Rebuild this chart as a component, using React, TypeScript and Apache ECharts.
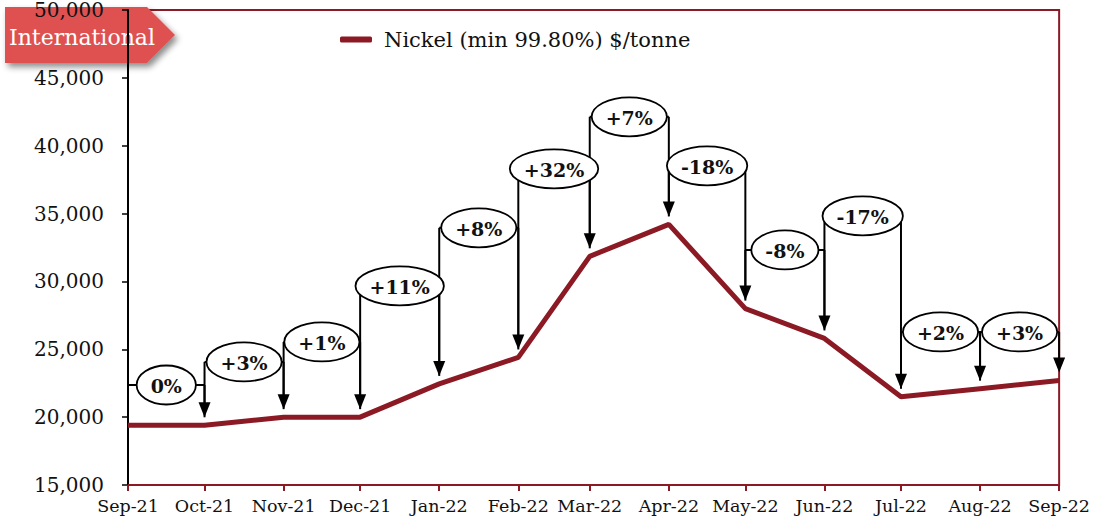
import React, { useEffect, useRef } from 'react';
import * as echarts from 'echarts';

// ---- data ----
const months = ['2021-09', '2021-10', '2021-11', '2021-12', '2022-01', '2022-02', '2022-03', '2022-04', '2022-05', '2022-06', '2022-07', '2022-08', '2022-09'];
const prices = [19400, 19400, 20000, 20000, 22450, 24400, 31850, 34200, 28000, 25800, 21500, 22100, 22700];
const changeLabels = ['0%', '+3%', '+1%', '+11%', '+8%', '+32%', '+7%', '-18%', '-8%', '-17%', '+2%', '+3%'];
const labelLevels = [22370, 24070, 25540, 29670, 33950, 38300, 42130, 38520, 32320, 34830, 26280, 26280];
const yMin = 15000;
const yMax = 50000;
const yStep = 5000;
const legendName = 'Nickel (min 99.80%) $/tonne';
const bannerText = 'International';
const monthAbbr = ['Jan', 'Feb', 'Mar', 'Apr', 'May', 'Jun', 'Jul', 'Aug', 'Sep', 'Oct', 'Nov', 'Dec'];

const FONT = '"DejaVu Serif", serif';
const LINE_RED = '#8B1A24';

function ts(s: string): number {
  const [y, m] = s.split('-').map(Number);
  return new Date(y, m - 1, 1).getTime();
}

let measureCtx: CanvasRenderingContext2D | null = null;
function textWidth(t: string, font: string): number {
  if (!measureCtx) {
    const c = document.createElement('canvas');
    measureCtx = c.getContext('2d');
  }
  if (!measureCtx) return t.length * 12;
  measureCtx.font = font;
  return measureCtx.measureText(t).width;
}

export default function App() {
  const ref = useRef<HTMLDivElement>(null);

  useEffect(() => {
    if (!ref.current) return;
    const chart = echarts.init(ref.current, undefined, { renderer: 'svg' });
    const lineData = months.map((m, i) => [ts(m), prices[i]]);
    const annData = changeLabels.map((_, i) => [ts(months[i]), ts(months[i + 1]), prices[i], prices[i + 1], labelLevels[i]]);
    const DAY = 24 * 3600 * 1000;
    const labelFont = `bold 19px ${FONT}`;

    const option: any = {
      animation: false,
      grid: {
        left: 128, right: 32, top: 10, bottom: 36,
        show: true, borderColor: LINE_RED, borderWidth: 2, backgroundColor: 'transparent',
      },
      legend: {
        data: [{ name: legendName }],
        left: 335, top: 24,
        icon: 'roundRect', itemWidth: 32, itemHeight: 6,
        itemStyle: { color: LINE_RED },
        textStyle: { fontFamily: FONT, fontSize: 21, color: '#111', padding: [0, 0, 0, 7] },
      },
      xAxis: {
        type: 'time',
        min: ts(months[0]),
        max: ts(months[months.length - 1]),
        splitNumber: 12,
        minInterval: 27 * DAY,
        maxInterval: 32 * DAY,
        axisLine: { lineStyle: { color: LINE_RED, width: 2 } },
        axisTick: { show: true, length: 6, lineStyle: { color: LINE_RED, width: 2 } },
        axisLabel: {
          formatter: (v: number) => {
            const d = new Date(v);
            return `${monthAbbr[d.getMonth()]}-${String(d.getFullYear()).slice(2)}`;
          },
          fontFamily: FONT, fontSize: 17.5, color: '#111', margin: 12,
          showMinLabel: true, showMaxLabel: true, hideOverlap: false,
        },
        splitLine: { show: false },
      },
      yAxis: {
        type: 'value', min: yMin, max: yMax, interval: yStep,
        axisLine: { show: true, lineStyle: { color: '#000', width: 2 } },
        axisTick: { show: true, length: 6, lineStyle: { color: '#000', width: 1.5 } },
        axisLabel: {
          formatter: (v: number) => v.toLocaleString('en-US'),
          fontFamily: FONT, fontSize: 20, color: '#111', margin: 24,
        },
        splitLine: { show: false },
      },
      series: [
        {
          name: legendName,
          type: 'line',
          data: lineData,
          showSymbol: false,
          symbol: 'none',
          lineStyle: { color: LINE_RED, width: 5 },
          itemStyle: { color: LINE_RED },
          z: 2,
        },
        {
          type: 'custom',
          name: 'connectors',
          data: annData,
          encode: { x: [0, 1], y: [2, 3, 4] },
          z: 3,
          silent: true,
          renderItem: (params: any, api: any) => {
            const a = api.coord([api.value(0), api.value(4)]);
            const b = api.coord([api.value(1), api.value(4)]);
            const pPrev = api.coord([api.value(0), api.value(2)]);
            const pCur = api.coord([api.value(1), api.value(3)]);
            const gap = 8, headH = 15, headW = 12;
            const st = { stroke: '#000', lineWidth: 2 };
            const tipY = pCur[1] - gap;
            return {
              type: 'group',
              children: [
                { type: 'line', shape: { x1: a[0], y1: a[1], x2: b[0], y2: b[1] }, style: st },
                { type: 'line', shape: { x1: a[0], y1: a[1], x2: a[0], y2: pPrev[1] - gap }, style: st },
                { type: 'line', shape: { x1: b[0], y1: b[1], x2: b[0], y2: tipY - headH + 1 }, style: st },
                {
                  type: 'polygon',
                  shape: { points: [[b[0] - headW / 2, tipY - headH], [b[0] + headW / 2, tipY - headH], [b[0], tipY]] },
                  style: { fill: '#000' },
                },
              ],
            };
          },
        },
        {
          type: 'custom',
          name: 'bubbles',
          data: annData,
          encode: { x: [0, 1], y: [4] },
          z: 4,
          silent: true,
          renderItem: (params: any, api: any) => {
            const a = api.coord([api.value(0), api.value(4)]);
            const b = api.coord([api.value(1), api.value(4)]);
            const label = changeLabels[params.dataIndex];
            const tw = textWidth(label, labelFont);
            const cx = (a[0] + b[0]) / 2;
            return {
              type: 'group',
              children: [
                {
                  type: 'ellipse',
                  shape: { cx, cy: a[1], rx: tw / 2 + 14, ry: 19.5 },
                  style: { fill: '#fff', stroke: '#000', lineWidth: 1.8 },
                },
                {
                  type: 'text',
                  style: {
                    text: label, x: cx, y: a[1] + 1, align: 'center', verticalAlign: 'middle',
                    font: labelFont, fill: '#111',
                  },
                },
              ],
            };
          },
        },
      ],
      graphic: [
        {
          type: 'group',
          z: 100,
          children: [
            {
              type: 'polygon',
              shape: { points: [[5, 7], [147, 7], [175, 35], [147, 63], [5, 63]] },
              style: {
                fill: '#DF5151', shadowBlur: 6, shadowOffsetX: 3, shadowOffsetY: 4,
                shadowColor: 'rgba(0,0,0,0.45)',
              },
            },
            {
              type: 'text',
              style: {
                text: bannerText, x: 9, y: 37, verticalAlign: 'middle',
                fill: '#fff', font: `22px ${FONT}`,
              },
            },
          ],
        },
      ],
    };

    chart.setOption(option);
    return () => chart.dispose();
  }, []);

  return <div ref={ref} style={{ position: 'fixed', left: 0, top: 0, width: 1093, height: 521, background: '#fff' }} />;
}
